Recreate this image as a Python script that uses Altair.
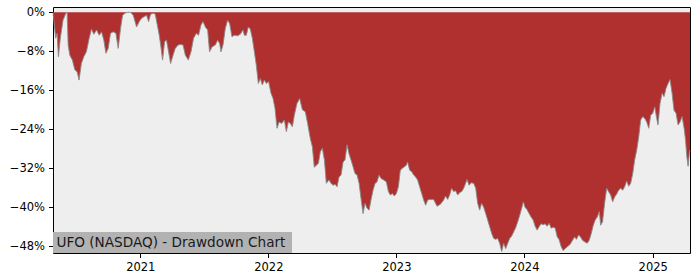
import math
import pandas as pd
import altair as alt

# Time position of each reading, as fractional years
year_frac = [
    2020.320, 2020.341, 2020.352, 2020.362, 2020.377, 2020.398, 2020.420, 2020.430,
    2020.438, 2020.451, 2020.471, 2020.490, 2020.508, 2020.523, 2020.541, 2020.560,
    2020.580, 2020.602, 2020.620, 2020.638, 2020.659, 2020.680, 2020.698, 2020.716,
    2020.732, 2020.750, 2020.768, 2020.789, 2020.810, 2020.828, 2020.846, 2020.862,
    2020.880, 2020.898, 2020.924, 2020.945, 2020.959, 2020.971, 2020.992, 2021.010,
    2021.029, 2021.049, 2021.065, 2021.080, 2021.102, 2021.117, 2021.133, 2021.148,
    2021.159, 2021.174, 2021.190, 2021.205, 2021.221, 2021.237, 2021.252, 2021.273,
    2021.295, 2021.315, 2021.334, 2021.352, 2021.375, 2021.396, 2021.416, 2021.438,
    2021.455, 2021.474, 2021.490, 2021.508, 2021.526, 2021.541, 2021.560, 2021.586,
    2021.604, 2021.620, 2021.630, 2021.646, 2021.664, 2021.682, 2021.698, 2021.716,
    2021.734, 2021.760, 2021.781, 2021.802, 2021.813, 2021.828, 2021.844, 2021.859,
    2021.875, 2021.891, 2021.906, 2021.922, 2021.938, 2021.953, 2021.969, 2021.984,
    2022.002, 2022.021, 2022.037, 2022.052, 2022.068, 2022.084, 2022.104, 2022.125,
    2022.141, 2022.156, 2022.172, 2022.188, 2022.203, 2022.224, 2022.245, 2022.266,
    2022.289, 2022.307, 2022.328, 2022.344, 2022.359, 2022.375, 2022.391, 2022.406,
    2022.422, 2022.438, 2022.453, 2022.474, 2022.490, 2022.505, 2022.521, 2022.537,
    2022.552, 2022.568, 2022.584, 2022.599, 2022.615, 2022.630, 2022.646, 2022.662,
    2022.677, 2022.693, 2022.709, 2022.724, 2022.740, 2022.755, 2022.771, 2022.787,
    2022.802, 2022.818, 2022.834, 2022.849, 2022.865, 2022.880, 2022.901, 2022.922,
    2022.938, 2022.953, 2022.969, 2022.984, 2023.000, 2023.016, 2023.031, 2023.047,
    2023.063, 2023.078, 2023.088, 2023.104, 2023.120, 2023.135, 2023.151, 2023.166,
    2023.182, 2023.198, 2023.213, 2023.229, 2023.245, 2023.266, 2023.291, 2023.318,
    2023.344, 2023.370, 2023.385, 2023.401, 2023.416, 2023.432, 2023.448, 2023.463,
    2023.479, 2023.495, 2023.510, 2023.526, 2023.541, 2023.552, 2023.568, 2023.584,
    2023.604, 2023.620, 2023.635, 2023.651, 2023.666, 2023.682, 2023.698, 2023.713,
    2023.729, 2023.745, 2023.760, 2023.776, 2023.791, 2023.807, 2023.823, 2023.838,
    2023.854, 2023.870, 2023.885, 2023.901, 2023.916, 2023.932, 2023.948, 2023.963,
    2023.979, 2023.992, 2024.005, 2024.021, 2024.037, 2024.052, 2024.068, 2024.084,
    2024.099, 2024.115, 2024.130, 2024.146, 2024.162, 2024.177, 2024.193, 2024.209,
    2024.224, 2024.240, 2024.255, 2024.271, 2024.287, 2024.302, 2024.318, 2024.334,
    2024.354, 2024.375, 2024.391, 2024.406, 2024.422, 2024.438, 2024.453, 2024.469,
    2024.490, 2024.505, 2024.521, 2024.537, 2024.552, 2024.568, 2024.584, 2024.594,
    2024.609, 2024.625, 2024.641, 2024.656, 2024.672, 2024.688, 2024.703, 2024.719,
    2024.734, 2024.750, 2024.766, 2024.781, 2024.797, 2024.813, 2024.828, 2024.844,
    2024.859, 2024.875, 2024.891, 2024.906, 2024.922, 2024.938, 2024.953, 2024.969,
    2024.984, 2025.000, 2025.016, 2025.031, 2025.041, 2025.057, 2025.073, 2025.088,
    2025.104, 2025.120, 2025.135, 2025.151, 2025.166, 2025.182, 2025.198, 2025.213,
    2025.229, 2025.245, 2025.256, 2025.266, 2025.276, 2025.287, 2025.291,
]

# Drawdown from running peak, in percent
drawdown = [
    0.0, -5.3, -4.3, -9.1, -5.3, -1.6, -0.2, 0.0,
    -6.7, -8.8, -9.8, -11.8, -12.2, -13.9, -10.5, -9.1,
    -8.1, -5.3, -3.4, -4.5, -3.6, -4.7, -4.0, -5.7,
    -8.4, -7.4, -4.3, -4.0, -4.3, -7.4, -3.3, -0.6,
    -0.2, 0.0, 0.0, -0.6, -1.9, -3.0, -1.9, -1.2,
    -0.9, -0.6, -1.9, -0.4, -0.2, -0.4, -2.6, -4.7,
    -6.7, -9.8, -6.0, -5.7, -8.1, -10.5, -9.1, -7.4,
    -6.7, -6.6, -6.7, -8.8, -9.8, -8.1, -5.3, -4.3,
    -4.7, -2.6, -1.9, -3.0, -3.6, -8.1, -7.1, -6.7,
    -5.7, -6.4, -8.1, -6.7, -3.3, -1.6, -2.3, -5.0,
    -4.7, -4.8, -4.5, -3.6, -4.7, -4.7, -3.0, -3.4,
    -5.3, -8.1, -10.8, -14.6, -13.6, -14.9, -13.9, -14.6,
    -14.2, -16.6, -17.7, -19.7, -23.8, -22.5, -22.8, -22.1,
    -24.5, -22.5, -22.8, -23.5, -21.1, -18.7, -17.7, -20.0,
    -20.4, -22.8, -25.9, -27.6, -31.8, -31.4, -31.0, -28.6,
    -27.9, -30.3, -35.1, -34.4, -35.1, -35.5, -35.3, -35.8,
    -33.8, -33.4, -30.7, -30.3, -27.2, -29.0, -30.3, -31.7,
    -33.1, -33.4, -35.1, -38.2, -41.3, -39.2, -40.2, -40.6,
    -38.5, -36.5, -35.1, -34.8, -33.4, -34.1, -34.4, -34.8,
    -36.8, -37.5, -37.2, -37.7, -37.2, -35.8, -32.4, -32.0,
    -31.7, -31.4, -30.7, -32.4, -32.7, -33.4, -33.8, -34.4,
    -35.8, -37.2, -38.5, -39.6, -38.5, -38.4, -38.4, -39.8,
    -39.4, -38.5, -37.7, -38.4, -37.5, -36.1, -36.8, -36.6,
    -37.5, -37.0, -36.8, -36.1, -35.1, -34.3, -35.5, -35.0,
    -35.1, -36.1, -39.2, -40.6, -39.2, -40.0, -41.3, -42.6,
    -44.0, -45.4, -46.4, -46.6, -46.4, -47.4, -49.1, -47.4,
    -48.5, -47.4, -46.4, -45.9, -45.1, -44.2, -43.0, -41.7,
    -40.2, -38.9, -40.0, -40.5, -41.3, -42.0, -42.6, -43.9,
    -44.7, -44.0, -43.4, -43.6, -43.4, -43.9, -43.3, -44.3,
    -44.1, -44.3, -46.0, -46.7, -48.1, -48.9, -48.5, -48.1,
    -47.7, -46.8, -46.1, -46.6, -45.7, -46.1, -46.8, -47.1,
    -47.4, -46.8, -45.4, -43.7, -42.6, -42.0, -40.9, -43.7,
    -43.0, -39.2, -36.1, -36.8, -37.5, -38.9, -37.9, -37.3,
    -36.5, -36.1, -36.5, -35.8, -34.6, -35.7, -35.1, -33.1,
    -30.3, -28.3, -25.5, -22.1, -21.4, -21.8, -22.5, -23.8,
    -21.1, -20.7, -19.4, -21.8, -23.1, -18.7, -16.6, -17.3,
    -15.6, -14.6, -13.8, -16.6, -20.1, -20.7, -23.1, -22.5,
    -21.4, -23.8, -26.2, -29.6, -31.6, -28.7, -28.3,
]

y_ticks = [0, -8, -16, -24, -32, -40, -48]
x_tick_years = [2021, 2022, 2023, 2024, 2025]
label_text = "UFO (NASDAQ) - Drawdown Chart"


def frac_to_ts(t):
    y = int(math.floor(t))
    start = pd.Timestamp(year=y, month=1, day=1)
    end = pd.Timestamp(year=y + 1, month=1, day=1)
    return (start + (t - y) * (end - start)).round("h")


dates = [frac_to_ts(t) for t in year_frac]
df = pd.DataFrame({"date": [d.strftime("%Y-%m-%dT%H:%M:%S") for d in dates], "dd": drawdown})

x_domain = [df["date"].iloc[0], df["date"].iloc[-1]]
x_enc = alt.X(
    "date:T",
    scale=alt.Scale(domain=x_domain, nice=False),
    axis=alt.Axis(
        values=[alt.DateTime(year=y, month=1, date=1) for y in x_tick_years],
        format="%Y",
        title=None,
        grid=False,
    ),
)
y_enc = alt.Y(
    "dd:Q",
    scale=alt.Scale(domain=[-49.4, 1.1], nice=False, zero=False),
    axis=alt.Axis(
        values=y_ticks,
        labelExpr="format(datum.value, 'd') + '%'",
        title=None,
        grid=False,
    ),
)

base = alt.Chart(df)
area = base.mark_area(color="#b03030", opacity=1, interpolate="linear").encode(
    x=x_enc, y=y_enc, y2=alt.value(0)
)
edge = base.mark_line(color="#8a8a8a", strokeWidth=0.9).encode(x="date:T", y="dd:Q")

lab_df = pd.DataFrame({"t": [label_text]})
box = alt.Chart(lab_df).mark_rect(color="#b2b2b2").encode(
    x=alt.value(0), x2=alt.value(239), y=alt.value(225), y2=alt.value(246)
)
txt = alt.Chart(lab_df).mark_text(
    align="left", baseline="alphabetic", font="DejaVu Sans", fontSize=13.6, color="#1a1a1a"
).encode(x=alt.value(3.5), y=alt.value(239.5), text="t:N")

chart = (
    alt.layer(area, edge, box, txt)
    .properties(
        width=637,
        height=246,
        autosize=alt.AutoSizeParams(type="none"),
        padding={"left": 53, "top": 7, "right": 10, "bottom": 27},
        background="white",
    )
    .configure_view(fill="#eeeeee", stroke="black", strokeWidth=1)
    .configure_axis(
        labelFont="DejaVu Sans",
        labelFontSize=11.5,
        labelColor="black",
        tickColor="black",
        tickSize=4.5,
        tickWidth=1,
        labelPadding=4,
        domain=False,
    )
)

chart.save("out.html", embed_options={"renderer": "svg", "actions": False})
